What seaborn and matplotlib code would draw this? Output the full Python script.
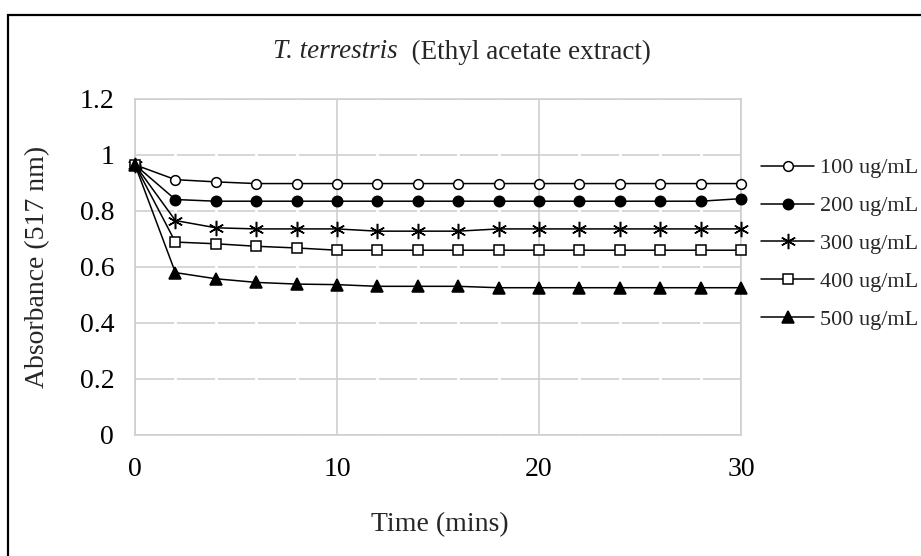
import matplotlib
matplotlib.use("Agg")
import matplotlib.pyplot as plt
import seaborn as sns
from matplotlib.ticker import MultipleLocator, FuncFormatter
from matplotlib.patches import Rectangle

# values
time = [0, 2, 4, 6, 8, 10, 12, 14, 16, 18, 20, 22, 24, 26, 28, 30]
c100 = [0.965, 0.912, 0.904] + [0.898] * 13
c200 = [0.965, 0.841] + [0.835] * 13 + [0.844]
c300 = [0.965, 0.766, 0.740, 0.736, 0.736, 0.736, 0.728, 0.728, 0.728] + [0.736] * 7
c400 = [0.965, 0.689, 0.683, 0.674, 0.668] + [0.660] * 11
c500 = [0.965, 0.580, 0.558, 0.545, 0.539, 0.537, 0.531, 0.531, 0.531] + [0.526] * 7
labels = ["100 ug/mL", "200 ug/mL", "300 ug/mL", "400 ug/mL", "500 ug/mL"]
yticks = [0, 0.2, 0.4, 0.6, 0.8, 1.0, 1.2]
xticks = [0, 10, 20, 30]

sns.set_theme(style="white")
plt.rcParams["font.family"] = ["Liberation Serif", "DejaVu Serif"]

W, H = 921, 556
fig = plt.figure(figsize=(W / 100, H / 100), dpi=100)
ax = fig.add_axes([135 / W, 1 - 435 / H, (741 - 135) / W, (435 - 99) / H])

marker_styles = [
    dict(marker="o", markerfacecolor="white", markersize=7),
    dict(marker="o", markerfacecolor="black", markersize=7.5),
    dict(marker=(6, 2, 0), markerfacecolor="black", markersize=11),
    dict(marker="s", markerfacecolor="white", markersize=6.5),
    dict(marker="^", markerfacecolor="black", markersize=9),
]

for vals, lab, st in zip([c100, c200, c300, c400, c500], labels, marker_styles):
    sns.lineplot(x=time, y=vals, ax=ax, color="black", linewidth=1.1,
                 markeredgecolor="black", markeredgewidth=1.1,
                 label=lab, clip_on=False, zorder=3, **st)

ax.set_xlim(0, 30)
ax.set_ylim(0, 1.2)
ax.set_xticks(xticks)
ax.set_yticks(yticks)
ax.yaxis.set_major_formatter(FuncFormatter(lambda v, p: f"{v:g}"))
ax.xaxis.set_minor_locator(MultipleLocator(2))

grid_c = "#cfcfcf"
ax.set_axisbelow(True)
ax.grid(which="major", color=grid_c, linewidth=1.2)
ax.grid(which="minor", axis="x", color="white", linewidth=2.0)
ax.yaxis.set_zorder(0.4)
for s in ax.spines.values():
    s.set_color(grid_c)
    s.set_linewidth(1.2)

ax.tick_params(which="major", length=7, width=1.2, color=grid_c,
               labelsize=20, labelcolor="black")
ax.tick_params(axis="y", pad=8)
ax.tick_params(axis="x", pad=9)
ax.tick_params(which="minor", length=0)

ax.set_xlabel("Time (mins)", fontsize=20, va="center")
ax.set_ylabel("Absorbance (517 nm)", fontsize=20, va="center")
ax.xaxis.set_label_coords((440 - 135) / 606, (435 - 525) / 336)
ax.yaxis.set_label_coords((38 - 135) / 606, 0.5)

handles, labs = ax.get_legend_handles_labels()
ax.get_legend().remove()
fig.legend(handles, labs, loc="upper left", bbox_to_anchor=(752 / W, 1 - 149 / H),
           frameon=False, fontsize=16, handlelength=2.4, handletextpad=0.25,
           labelspacing=0.78, borderaxespad=0)

# title: italic species name followed by upright text, centred on the figure
t1 = fig.text(0, 1 - 52 / H, "T. terrestris", fontsize=19.5, style="italic", va="center")
t2 = fig.text(0, 1 - 52 / H, "  (Ethyl acetate extract)", fontsize=19.5, va="center")
fig.canvas.draw()
r = fig.canvas.get_renderer()
w1 = t1.get_window_extent(r).width
w2 = t2.get_window_extent(r).width
x0 = 462 - (w1 + w2) / 2
t1.set_x(x0 / W)
t2.set_x((x0 + w1) / W)

# outer chart frame (cut at the right and bottom edges)
fig.patches.append(Rectangle((8 / W, -0.05), 1.1, 1 - 15 / H + 0.05,
                             transform=fig.transFigure, fill=False,
                             edgecolor="black", linewidth=1.6))

fig.savefig("out.png", dpi=100)
